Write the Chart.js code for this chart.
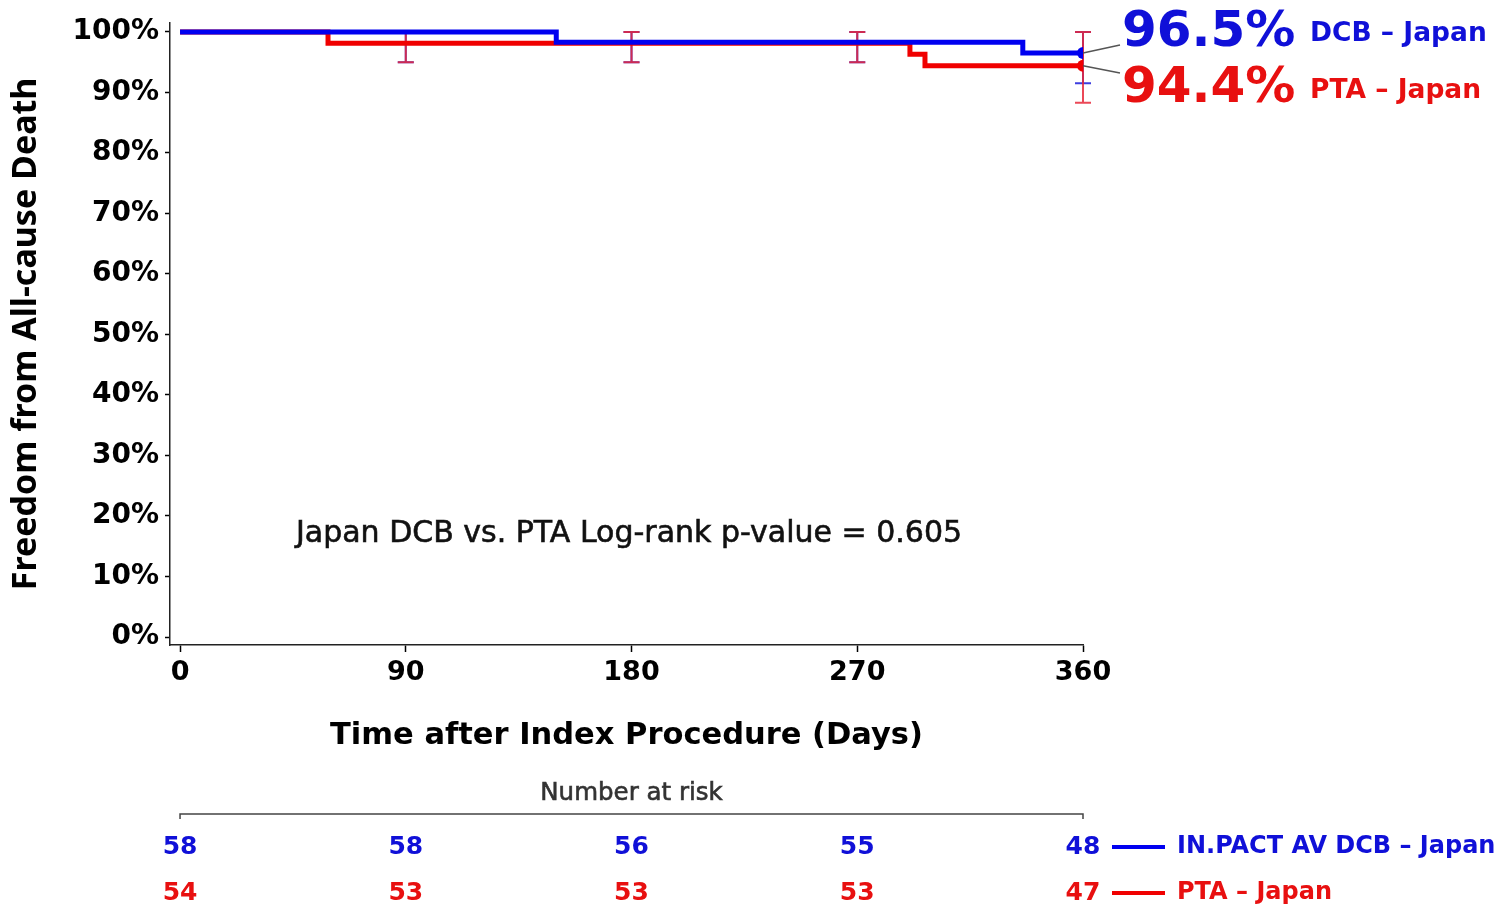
<!DOCTYPE html>
<html>
<head>
<meta charset="utf-8">
<script src="https://cdn.jsdelivr.net/npm/chart.js@4.4.0/dist/chart.umd.min.js"></script>
<style>
  html, body { margin: 0; padding: 0; background: #fff; }
</style>
</head>
<body>
<canvas id="kmChart" width="1499" height="908"></canvas>
<script>
// axis ticks
const dayTicks = [0, 90, 180, 270, 360];
const pctTicks = [0, 10, 20, 30, 40, 50, 60, 70, 80, 90, 100];

// Kaplan-Meier steps (day of event, freedom % after event)
const dcbDays = [0, 150, 336, 360];
const dcbFree = [100, 98.3, 96.5, 96.5];
const ptaDays = [0, 59, 291, 297, 360];
const ptaFree = [100, 98.1, 96.3, 94.4, 94.4];

// confidence interval bars
const ciDays = [90, 180, 270, 360];
const dcbLow = [95, 95, 95, 91.5];
const dcbHigh = [100, 100, 100, 100];
const ptaLow = [95, 95, 95, 88.3];
const ptaHigh = [100, 100, 100, 100];

// number at risk
const riskDCB = [58, 58, 56, 55, 48];
const riskPTA = [54, 53, 53, 53, 47];

const pValue = '0.605';

const FONT = '"DejaVu Sans", sans-serif';
const TITLE_FONT = '"Noto Sans", sans-serif';
const BLUE = '#0000f0';
const RED = '#f00000';
const BLUE_TXT = '#1010d8';
const RED_TXT = '#e81010';

const toPoints = (xs, ys) => xs.map((x, i) => ({ x: x, y: ys[i] }));
const lastDot = (n) => (c) => (c.dataIndex === n - 1 ? 6 : 0);

// book weight with a hairline stroke, reads as medium
const mediumText = (ctx, text, x, y, color) => {
  ctx.fillStyle = color;
  ctx.strokeStyle = color;
  ctx.lineWidth = 0.6;
  ctx.fillText(text, x, y);
  ctx.strokeText(text, x, y);
};

const errorBars = {
  id: 'errorBars',
  beforeDatasetsDraw(chart) {
    const { ctx, scales: { x, y } } = chart;
    const draw = (low, high, color) => {
      ctx.save();
      ctx.strokeStyle = color;
      ctx.lineWidth = 2;
      ciDays.forEach((d, i) => {
        const px = x.getPixelForValue(d);
        const y1 = y.getPixelForValue(low[i]);
        const y2 = y.getPixelForValue(high[i]);
        ctx.beginPath();
        ctx.moveTo(px, y1); ctx.lineTo(px, y2);
        ctx.moveTo(px - 8, y1); ctx.lineTo(px + 8, y1);
        ctx.moveTo(px - 8, y2); ctx.lineTo(px + 8, y2);
        ctx.stroke();
      });
      ctx.restore();
    };
    draw(dcbLow, dcbHigh, 'rgba(40,40,220,0.9)');
    draw(ptaLow, ptaHigh, 'rgba(232,40,58,0.85)');
  }
};

const annotations = {
  id: 'annotations',
  afterDraw(chart) {
    const { ctx, chartArea, scales: { x, y } } = chart;
    const endX = x.getPixelForValue(360);
    const dcbEnd = dcbFree[dcbFree.length - 1];
    const ptaEnd = ptaFree[ptaFree.length - 1];
    const labX = endX + 39;

    ctx.save();
    // leader lines to the final estimates
    ctx.strokeStyle = '#555';
    ctx.lineWidth = 1.5;
    ctx.beginPath();
    ctx.moveTo(endX, y.getPixelForValue(dcbEnd));
    ctx.lineTo(labX - 2, 45);
    ctx.moveTo(endX, y.getPixelForValue(ptaEnd));
    ctx.lineTo(labX - 2, 73);
    ctx.stroke();

    ctx.textBaseline = 'middle';
    ctx.textAlign = 'left';
    ctx.font = 'bold 50px ' + FONT;
    ctx.fillStyle = BLUE_TXT;
    ctx.fillText(dcbEnd.toFixed(1) + '%', labX, 33);
    ctx.fillStyle = RED_TXT;
    ctx.fillText(ptaEnd.toFixed(1) + '%', labX, 89);
    ctx.font = 'bold 26.5px ' + FONT;
    ctx.fillStyle = BLUE_TXT;
    ctx.fillText('DCB – Japan', labX + 188, 34);
    ctx.fillStyle = RED_TXT;
    ctx.fillText('PTA – Japan', labX + 188, 91);

    // log-rank result
    ctx.textAlign = 'center';
    ctx.font = '30px ' + FONT;
    mediumText(ctx, 'Japan DCB vs. PTA Log-rank p-value = ' + pValue, x.getPixelForValue(179), y.getPixelForValue(17), '#111');

    // number at risk table
    const x0 = x.getPixelForValue(dayTicks[0]);
    const x1 = x.getPixelForValue(dayTicks[dayTicks.length - 1]);
    const lineY = chartArea.bottom + 169;
    ctx.font = '24.5px ' + FONT;
    mediumText(ctx, 'Number at risk', x.getPixelForValue(180), lineY - 20, '#333');
    ctx.strokeStyle = '#444';
    ctx.lineWidth = 1.5;
    ctx.beginPath();
    ctx.moveTo(x0, lineY + 5); ctx.lineTo(x0, lineY); ctx.lineTo(x1, lineY); ctx.lineTo(x1, lineY + 5);
    ctx.stroke();

    ctx.font = 'bold 25px ' + FONT;
    dayTicks.forEach((d, i) => {
      const px = x.getPixelForValue(d);
      ctx.fillStyle = BLUE_TXT;
      ctx.fillText(String(riskDCB[i]), px, lineY + 33);
      ctx.fillStyle = RED_TXT;
      ctx.fillText(String(riskPTA[i]), px, lineY + 79);
    });

    // legend
    ctx.lineWidth = 4;
    ctx.strokeStyle = BLUE;
    ctx.beginPath(); ctx.moveTo(x1 + 29, lineY + 33); ctx.lineTo(x1 + 82, lineY + 33); ctx.stroke();
    ctx.strokeStyle = RED;
    ctx.beginPath(); ctx.moveTo(x1 + 29, lineY + 79); ctx.lineTo(x1 + 82, lineY + 79); ctx.stroke();
    ctx.textAlign = 'left';
    ctx.font = 'bold 24px ' + FONT;
    ctx.fillStyle = BLUE_TXT;
    ctx.fillText(chart.data.datasets[0].label, x1 + 94, lineY + 33);
    ctx.fillStyle = RED_TXT;
    ctx.fillText(chart.data.datasets[1].label, x1 + 94, lineY + 79);
    ctx.restore();
  }
};

new Chart(document.getElementById('kmChart'), {
  type: 'line',
  data: {
    datasets: [
      {
        label: 'IN.PACT AV DCB – Japan',
        data: toPoints(dcbDays, dcbFree),
        borderColor: BLUE,
        backgroundColor: BLUE,
        borderWidth: 5,
        stepped: 'before',
        pointRadius: lastDot(dcbDays.length),
        pointBorderWidth: 0,
      },
      {
        label: 'PTA – Japan',
        data: toPoints(ptaDays, ptaFree),
        borderColor: RED,
        backgroundColor: RED,
        borderWidth: 5,
        stepped: 'before',
        pointRadius: lastDot(ptaDays.length),
        pointBorderWidth: 0,
      },
    ],
  },
  options: {
    responsive: false,
    animation: false,
    layout: { padding: { left: 0, right: 416, top: 22, bottom: 152 } },
    plugins: { legend: { display: false }, tooltip: { enabled: false } },
    scales: {
      x: {
        type: 'linear',
        min: -4,
        max: 360,
        afterFit: (s) => { s.height = 111; },
        afterBuildTicks: (s) => { s.ticks = dayTicks.map(v => ({ value: v })); },
        grid: { drawOnChartArea: false, drawTicks: true, tickLength: 7, tickColor: '#000', tickWidth: 1.5 },
        border: { display: true, color: '#222', width: 1.5 },
        ticks: { color: '#000', font: { family: FONT, size: 27, weight: 'bold' }, padding: 5, maxRotation: 0 },
        title: {
          display: true,
          text: 'Time after Index Procedure (Days)',
          color: '#000',
          font: { family: FONT, size: 30.5, weight: 'bold' },
          padding: { top: 0, bottom: 2 },
        },
      },
      y: {
        min: -1.32,
        max: 101.5,
        afterFit: (s) => { s.width = 170; },
        afterBuildTicks: (s) => { s.ticks = pctTicks.map(v => ({ value: v })); },
        grid: { drawOnChartArea: false, drawTicks: true, tickLength: 5, tickColor: '#000', tickWidth: 1.5 },
        border: { display: true, color: '#222', width: 1.5 },
        ticks: { color: '#000', font: { family: FONT, size: 28, weight: 'bold' }, padding: 6, callback: (v) => v + '%' },
        title: {
          display: true,
          text: 'Freedom from All-cause Death',
          color: '#000',
          font: { family: TITLE_FONT, size: 34, weight: 'bold' },
          padding: { top: 6, bottom: 0 },
        },
      },
    },
  },
  plugins: [errorBars, annotations],
});
</script>
</body>
</html>
